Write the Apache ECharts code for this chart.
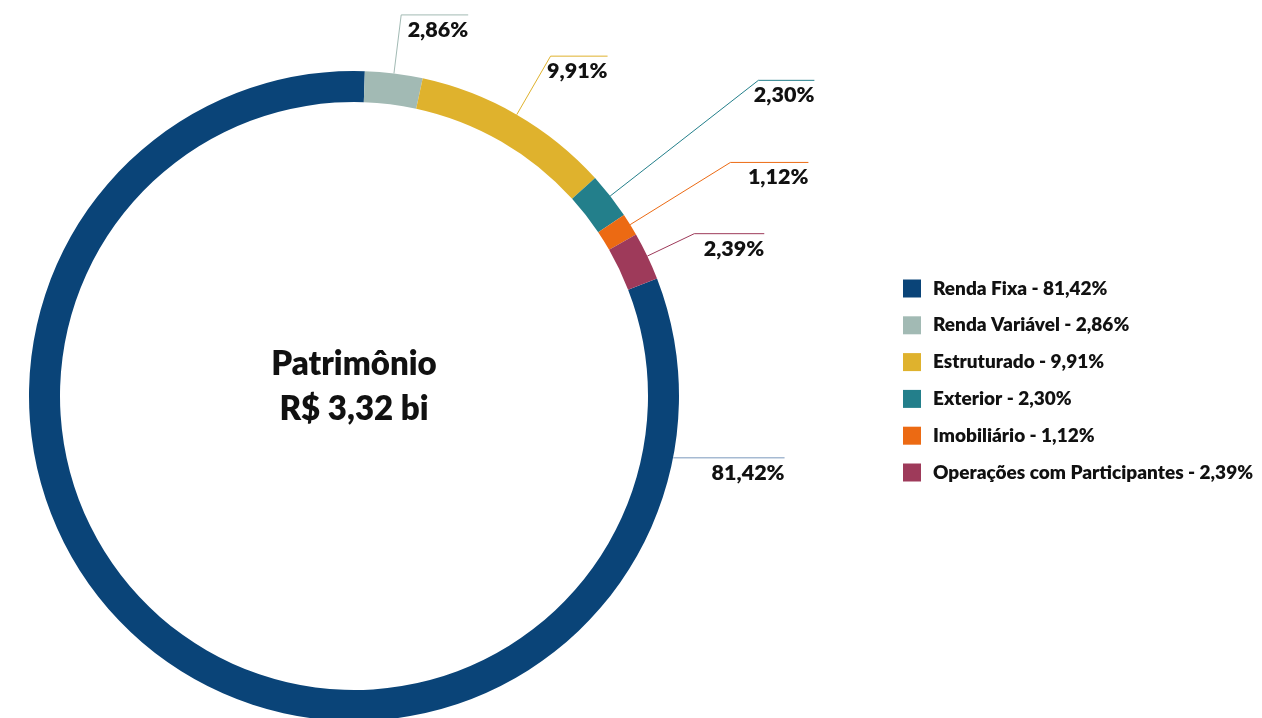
<!DOCTYPE html>
<html><head><meta charset="utf-8">
<script src="https://cdn.jsdelivr.net/npm/echarts@6/dist/echarts.min.js"></script>
<style>html,body{margin:0;padding:0;background:#fff}#c{width:1262px;height:718px}</style>
</head><body><div id="c"></div>
<script>
// ---- data ----
const categories = ['Renda Fixa', 'Renda Variável', 'Estruturado', 'Exterior', 'Imobiliário', 'Operações com Participantes'];
const values = [81.42, 2.86, 9.91, 2.30, 1.12, 2.39];
const centerTitle = 'Patrimônio';
const centerValue = 'R$ 3,32 bi';

// ---- styling / layout ----
const colors = ['#0a4478', '#a2bab4', '#dfb22d', '#237f8b', '#ec6a13', '#9e3a5a'];
const lineColors = ['#7b98bd', '#a2bab4', '#dfb22d', '#237f8b', '#ec6a13', '#9e3a5a'];
const lineLen = [0, 59, 67.6, 188, 118, 52];
const lineLen2 = [0, 67, 57, 56, 78, 70];
const CX = 354, CY = 396, R0 = 294, R1 = 325;
const START_ANGLE = 21.2;
const FIXED_LABEL_ANGLE = -10.95;
const LABEL_W = 90;
const FONT = 'Lato';
const WEIGHT = 800;

const fmt = v => v.toFixed(2).replace('.', ',') + '%';

const labelBase = {
  show: true,
  position: 'outside',
  width: LABEL_W,
  padding: [30, 0, 0, 0],
  distanceToLabelLine: -LABEL_W,
  formatter: p => '{t|' + fmt(p.value) + '}',
  rich: { t: { align: 'right', fontFamily: FONT, fontWeight: WEIGHT, fontSize: 21.5, color: '#111' } }
};

const mainData = categories.map((name, i) => ({
  name: name,
  value: values[i],
  itemStyle: { color: colors[i] },
  label: i === 0 ? { show: false } : {},
  labelLine: i === 0 ? { show: false } : { show: true, length: lineLen[i], length2: lineLen2[i], lineStyle: { color: lineColors[i], width: 1 } }
}));

const chart = echarts.init(document.getElementById('c'), null, { renderer: 'canvas' });
chart.setOption({
  backgroundColor: '#ffffff',
  animation: false,
  legend: {
    orient: 'vertical',
    left: 898,
    top: 274,
    itemWidth: 18,
    itemHeight: 18,
    itemGap: 17.8,
    icon: 'rect',
    selectedMode: false,
    data: categories,
    formatter: name => name + ' - ' + fmt(values[categories.indexOf(name)]),
    textStyle: { fontFamily: FONT, fontWeight: WEIGHT, fontSize: 19, color: '#111', padding: [0, 0, 0, 7] }
  },
  graphic: [{
    type: 'text',
    x: CX,
    y: CY - 9.5,
    silent: true,
    style: {
      text: centerTitle + '\n' + centerValue,
      align: 'center',
      verticalAlign: 'middle',
      fontFamily: FONT,
      fontWeight: WEIGHT,
      fontSize: 33,
      lineHeight: 45,
      fill: '#111'
    }
  }],
  series: [{
    type: 'pie',
    center: [CX, CY],
    radius: [R0, R1],
    startAngle: START_ANGLE,
    clockwise: true,
    avoidLabelOverlap: false,
    silent: true,
    label: labelBase,
    labelLine: { show: true, smooth: false },
    data: mainData
  }, {
    type: 'pie',
    center: [CX, CY],
    radius: [R0, R1],
    startAngle: FIXED_LABEL_ANGLE + 180,
    avoidLabelOverlap: false,
    silent: true,
    legendHoverLink: false,
    itemStyle: { color: 'rgba(0,0,0,0)' },
    label: labelBase,
    labelLine: { show: true, length: 0.5, length2: 111, lineStyle: { color: lineColors[0], width: 1 } },
    data: [{ name: categories[0], value: values[0] }]
  }]
});
</script></body></html>
